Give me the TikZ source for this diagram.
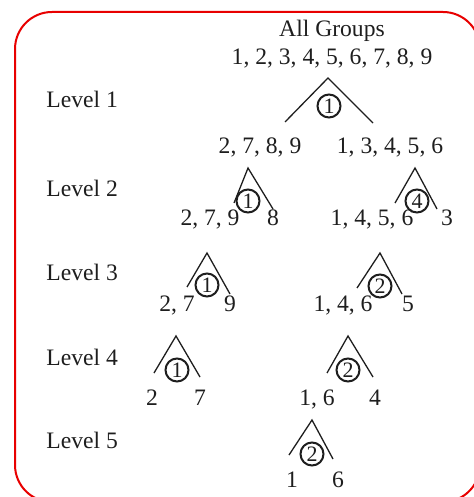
\documentclass[tikz,border=0pt]{standalone}
\usepackage{fontspec}
\setmainfont{Liberation Serif}
\usetikzlibrary{positioning}
\definecolor{borderred}{RGB}{232,0,0}
\definecolor{inkgray}{RGB}{30,30,30}

\begin{document}
\begin{tikzpicture}[
        x=0.5pt, y=-0.5pt,
        grp/.style = {inner sep=0pt, anchor=base, font=\fontsize{11.8}{14}\selectfont, text=inkgray},
        lvl/.style = {grp, anchor=base west},
        cut/.style = {draw=inkgray, circle, line width=1pt, inner sep=0pt, minimum size=11.5pt, font=\fontsize{11}{12}\selectfont, text=inkgray},
        wedge/.style = {draw=inkgray, line width=0.65pt}
    ]

        \useasboundingbox (0,0) rectangle (474,497);
        \clip (0,0) rectangle (474,497);
        \draw [borderred, line width=1pt, rounded corners=18.5pt] (15,12) rectangle (480,502);

        % level names
        \node (lv1) [lvl] at (46,108) {Level 1};
        \node (lv2) [lvl] at (46,197) {Level 2};
        \node (lv3) [lvl] at (46,280) {Level 3};
        \node (lv4) [lvl] at (46,365) {Level 4};
        \node (lv5) [lvl] at (46,448) {Level 5};

        % groups
        \node (all) [grp] at (332,37) {All Groups};
        \node (g0) [grp] at (332,65) {1, 2, 3, 4, 5, 6, 7, 8, 9};
        \node (g1a) [grp] at (260,154) {2, 7, 8, 9};
        \node (g1b) [grp] at (390,154) {1, 3, 4, 5, 6};
        \node (g2a) [grp] at (210,225) {2, 7, 9};
        \node (g2b) [grp] at (273,225) {8};
        \node (g2c) [grp] at (372,225) {1, 4, 5, 6};
        \node (g2d) [grp] at (447,225) {3};
        \node (g3a) [grp] at (177,311) {2, 7};
        \node (g3b) [grp] at (230,311) {9};
        \node (g3c) [grp] at (343,311) {1, 4, 6};
        \node (g3d) [grp] at (408,311) {5};
        \node (g4a) [grp] at (152,405) {2};
        \node (g4b) [grp] at (200,405) {7};
        \node (g4c) [grp] at (317,405) {1, 6};
        \node (g4d) [grp] at (375,405) {4};
        \node (g5a) [grp] at (292,487) {1};
        \node (g5b) [grp] at (338,487) {6};

        % splits
        \node (c1) [cut] at (329,106) {1};
        \node (c2a) [cut] at (248,201) {1};
        \node (c2b) [cut] at (417,201) {4};
        \node (c3a) [cut] at (207,285) {1};
        \node (c3b) [cut] at (380,286) {2};
        \node (c4a) [cut] at (177,370) {1};
        \node (c4b) [cut] at (348,370) {2};
        \node (c5) [cut] at (312,454) {2};

        \coordinate (t1) at (328,78);  \coordinate (l1) at (285,122);  \coordinate (r1) at (373,123);
        \coordinate (t2a) at (248,168); \coordinate (l2a) at (234,203); \coordinate (r2a) at (273,209);
        \coordinate (t2b) at (415,168); \coordinate (l2b) at (395,203); \coordinate (r2b) at (437,209);
        \coordinate (t3a) at (207,253); \coordinate (l3a) at (187,287); \coordinate (r3a) at (230,294);
        \coordinate (t3b) at (380,253); \coordinate (l3b) at (357,288); \coordinate (r3b) at (402,294);
        \coordinate (t4a) at (176,336); \coordinate (l4a) at (154,373); \coordinate (r4a) at (200,377);
        \coordinate (t4b) at (348,336); \coordinate (l4b) at (327,373); \coordinate (r4b) at (373,377);
        \coordinate (t5) at (312,420);  \coordinate (l5) at (289,455);  \coordinate (r5) at (333,459);

        \draw [wedge] (l1) -- (t1) -- (r1);
        \draw [wedge] (l2a) -- (t2a) -- (r2a);
        \draw [wedge] (l2b) -- (t2b) -- (r2b);
        \draw [wedge] (l3a) -- (t3a) -- (r3a);
        \draw [wedge] (l3b) -- (t3b) -- (r3b);
        \draw [wedge] (l4a) -- (t4a) -- (r4a);
        \draw [wedge] (l4b) -- (t4b) -- (r4b);
        \draw [wedge] (l5) -- (t5) -- (r5);

    \end{tikzpicture}
\end{document}
